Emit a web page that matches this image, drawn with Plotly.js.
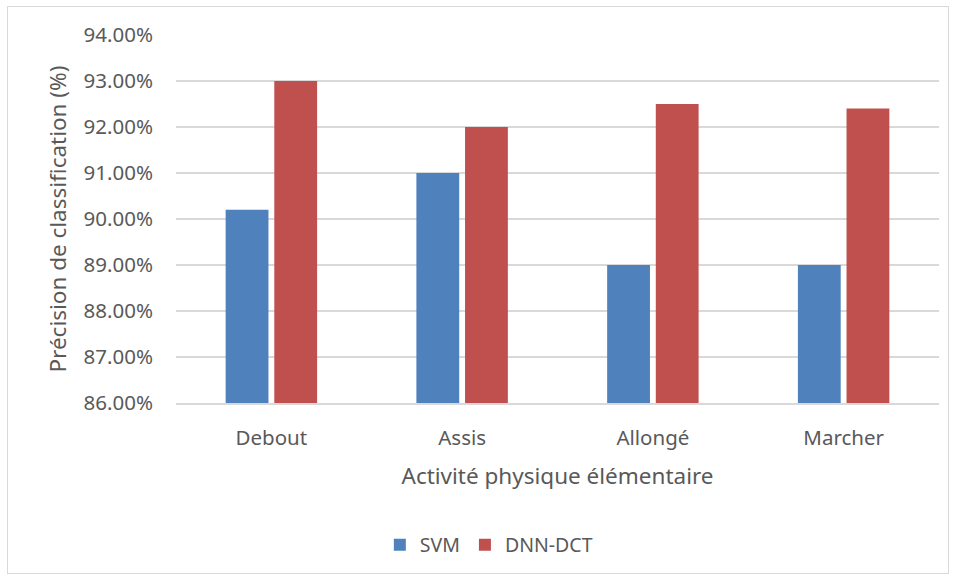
<!DOCTYPE html>
<html><head><meta charset="utf-8">
<script src="https://cdn.plot.ly/plotly-3.0.1.min.js"></script>
<style>
body{margin:0;background:#fff;}
#chart{width:956px;height:579px;}
#frame{position:absolute;left:7px;top:6px;width:942px;height:568px;border:1px solid #d9d9d9;box-sizing:border-box;pointer-events:none;}
</style></head>
<body>
<div id="chart"></div>
<div id="frame"></div>
<script>
const categories = ["Debout", "Assis", "Allongé", "Marcher"];
const svmValues = [0.902, 0.910, 0.890, 0.890];
const dnnValues = [0.930, 0.920, 0.925, 0.924];
const seriesNames = ["SVM", "DNN-DCT"];
const yTickValues = [0.86, 0.87, 0.88, 0.89, 0.90, 0.91, 0.92, 0.93, 0.94];

const fontFam = '"Noto Sans", "Open Sans", sans-serif';
const traces = [
  {type:'bar', name:seriesNames[0], x:categories, y:svmValues, marker:{color:'#4F81BD'}},
  {type:'bar', name:seriesNames[1], x:categories, y:dnnValues, marker:{color:'#C0504D'}}
];
const layout = {
  width:956, height:579,
  margin:{l:176, r:17, t:35, b:176, autoexpand:false},
  paper_bgcolor:'#fff', plot_bgcolor:'#fff',
  font:{family:fontFam, color:'#595959'},
  barmode:'group', bargap:0.49, bargroupgap:0.12,
  showlegend:true,
  legend:{orientation:'h', x:0.41, xanchor:'center', y:-0.386, yanchor:'middle',
    font:{size:19.5, color:'#595959'}, traceorder:'normal'},
  xaxis:{
    type:'category', showgrid:false, showline:true, linecolor:'#d9d9d9', linewidth:1.5, zeroline:false,
    tickfont:{size:20.5, color:'#595959'}, ticklabelstandoff:16, ticks:'',
    title:{text:'Activité physique élémentaire', font:{size:22.5, color:'#595959'}, standoff:18}
  },
  yaxis:{
    range:[0.86, 0.94], tickvals:yTickValues, tickformat:'.2%',
    showgrid:true, gridcolor:'#d9d9d9', gridwidth:1.5, zeroline:false, showline:false,
    tickfont:{size:20.5, color:'#595959'}, ticklabelstandoff:22, ticks:'',
    title:{text:'Précision de classification (%)', font:{size:22.5, color:'#595959'}, standoff:10}
  }
};
Plotly.newPlot('chart', traces, layout, {displayModeBar:false, staticPlot:true});
</script>
</body></html>
